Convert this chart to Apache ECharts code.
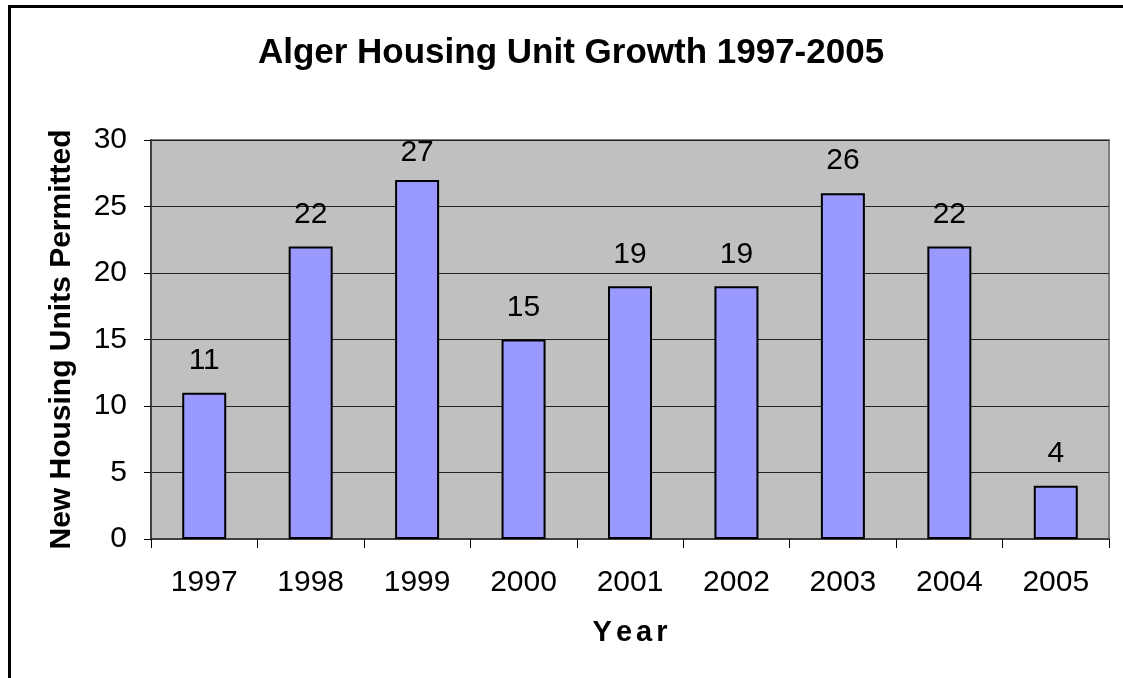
<!DOCTYPE html>
<html>
<head>
<meta charset="utf-8">
<script src="https://cdn.jsdelivr.net/npm/echarts@6/dist/echarts.min.js"></script>
<style>html,body{margin:0;padding:0;background:#fff;}#c{width:1123px;height:678px;}</style>
</head>
<body>
<div id="c"></div>
<script>
const years = ['1997','1998','1999','2000','2001','2002','2003','2004','2005'];
const units = [11, 22, 27, 15, 19, 19, 26, 22, 4];
const yTicks = {min: 0, max: 30, interval: 5};
const xName = 'Year';
const yName = 'New Housing Units Permitted';
const titleText = 'Alger Housing Unit Growth 1997-2005';

const gridH = 399;
const pxPerUnit = gridH / (yTicks.max - yTicks.min);

const chart = echarts.init(document.getElementById('c'), null, {renderer: 'canvas'});
const font = 'Arial, "Liberation Sans", sans-serif';
// spaced letters for the x-axis title, kept as its real characters
const spacedName = xName.split('').map(ch => '{s|' + ch + '}').join('');

chart.setOption({
  animation: false,
  backgroundColor: '#fff',
  graphic: [{
    type: 'rect', left: 7, top: 4, z: -10,
    shape: {width: 1130, height: 690},
    style: {fill: 'none', stroke: '#000', lineWidth: 3}
  }],
  title: {
    text: titleText,
    left: 566, top: 31, textAlign: 'center',
    textStyle: {fontFamily: font, fontSize: 35, fontWeight: 'bold', color: '#000'}
  },
  grid: {
    left: 151, top: 140, width: 958, height: gridH,
    show: true, backgroundColor: '#C0C0C0', borderColor: '#808080', borderWidth: 2
  },
  xAxis: {
    type: 'category', data: years,
    name: spacedName, nameLocation: 'middle', nameGap: 79,
    nameTextStyle: {
      fontFamily: font, fontSize: 29, fontWeight: 'bold', color: '#000',
      rich: {s: {fontFamily: font, fontSize: 29, fontWeight: 'bold', color: '#000', padding: [0, 2]}}
    },
    axisLine: {lineStyle: {color: '#404040', width: 2}},
    axisTick: {show: true, alignWithLabel: false, length: 9, lineStyle: {color: '#000'}},
    axisLabel: {fontFamily: font, fontSize: 30, color: '#000', margin: 29}
  },
  yAxis: {
    type: 'value', min: yTicks.min, max: yTicks.max, interval: yTicks.interval,
    name: yName, nameLocation: 'middle', nameGap: 74, nameRotate: 90,
    nameTextStyle: {fontFamily: font, fontSize: 30, fontWeight: 'bold', color: '#000', padding: [0, 0, 0, 0]},
    axisLine: {show: true, lineStyle: {color: '#404040', width: 2}},
    axisTick: {show: true, length: 7, lineStyle: {color: '#000'}},
    axisLabel: {fontFamily: font, fontSize: 30, color: '#000', margin: 24},
    splitLine: {lineStyle: {color: '#222', width: 1}}
  },
  series: [{
    type: 'bar',
    data: units.map(v => ({
      value: v,
      // labels near the top of the plot are pulled closer to the bar, as in the original
      label: {distance: (yTicks.max - v) * pxPerUnit < 50 ? 12 : 17}
    })),
    barWidth: 44,
    itemStyle: {color: '#9999FF', borderColor: '#000', borderWidth: 2},
    label: {show: true, position: 'top', distance: 17, fontFamily: font, fontSize: 30, color: '#000'}
  }]
});
</script>
</body>
</html>
